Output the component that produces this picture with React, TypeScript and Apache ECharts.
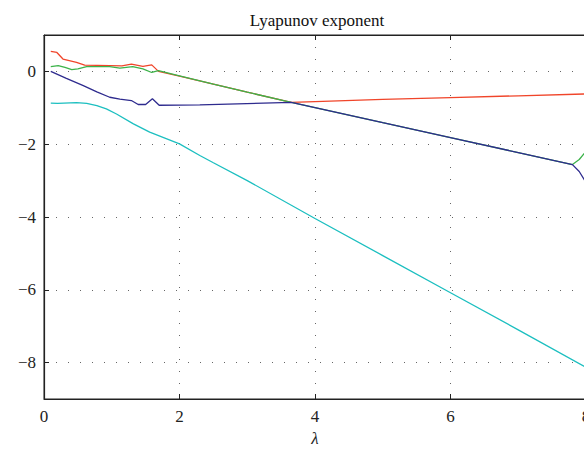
import React, { useEffect, useRef } from "react";
import * as echarts from "echarts";

const titleText = "Lyapunov exponent";
const xTicks = [0, 2, 4, 6, 8];
const yTicks = [-8, -6, -4, -2, 0];

const redData: [number, number][] = [
  [0.1, 0.55], [0.19, 0.52], [0.28, 0.34], [0.48, 0.25], [0.6, 0.17], [0.97, 0.16],
  [1.15, 0.15], [1.29, 0.2], [1.46, 0.14], [1.59, 0.18], [1.69, 0.0], [2.0, -0.13],
  [2.5, -0.35], [3.0, -0.57], [3.65, -0.85], [4, -0.83], [5, -0.77], [6, -0.72],
  [7, -0.67], [8, -0.62],
];
const greenData: [number, number][] = [
  [0.1, 0.13], [0.21, 0.16], [0.31, 0.11], [0.41, 0.05], [0.5, 0.07], [0.63, 0.13],
  [0.97, 0.13], [1.12, 0.09], [1.31, 0.13], [1.46, 0.07], [1.59, -0.03], [1.69, 0.02],
  [2.0, -0.12], [2.5, -0.35], [3.0, -0.57], [3.65, -0.85], [5, -1.41], [6, -1.82],
  [7, -2.23], [7.8, -2.56], [7.9, -2.42], [8.0, -2.2],
];
const blueData: [number, number][] = [
  [0.1, 0.0], [0.33, -0.19], [0.58, -0.39], [0.78, -0.56], [0.97, -0.71], [1.12, -0.76],
  [1.29, -0.8], [1.39, -0.91], [1.5, -0.91], [1.6, -0.75], [1.7, -0.93], [2.3, -0.92],
  [3.65, -0.85], [5, -1.41], [6, -1.82], [7, -2.23], [7.8, -2.56], [7.9, -2.75],
  [8.0, -3.05],
];
const cyanData: [number, number][] = [
  [0.1, -0.87], [0.2, -0.88], [0.48, -0.86], [0.63, -0.88], [0.78, -0.94], [0.92, -1.03],
  [1.07, -1.17], [1.32, -1.44], [1.56, -1.67], [2.0, -1.99], [2.3, -2.31], [2.5, -2.51],
  [3, -3.0], [4, -4.04], [5, -5.06], [6, -6.08], [7, -7.1], [8, -8.13],
];

const FONT = "Liberation Serif";

export default function App() {
  const ref = useRef<HTMLDivElement>(null);
  useEffect(() => {
    if (!ref.current) return;
    const chart = echarts.init(ref.current, undefined, { renderer: "svg" });
    const grid = { color: "#666", type: [1, 11] as any, width: 1 };
    const fmt = (v: number) => (v < 0 ? "\u2212" + Math.abs(v) : String(v));
    const line = (name: string, data: [number, number][], color: string) => ({
      name,
      type: "line",
      data,
      showSymbol: false,
      symbol: "none",
      lineStyle: { color, width: 1.3 },
      z: 3,
    });
    chart.setOption({
      animation: false,
      backgroundColor: "#fff",
      title: {
        text: titleText,
        left: 312,
        textAlign: "center",
        top: 7,
        textStyle: { fontFamily: FONT, fontSize: 17, fontWeight: "normal", color: "#111" },
      },
      grid: {
        left: 44,
        right: -2,
        top: 35,
        bottom: 56,
        show: true,
        borderColor: "#222",
        borderWidth: 1,
        backgroundColor: "transparent",
        containLabel: false,
        outerBoundsMode: "none",
      },
      xAxis: [
        {
          type: "value",
          min: 0,
          max: 8,
          interval: 2,
          position: "bottom",
          axisLine: { show: true, onZero: false, lineStyle: { color: "#222", width: 1.2 } },
          axisTick: { show: true, inside: true, length: 5, lineStyle: { color: "#222" } },
          axisLabel: {
            show: true,
            margin: 9,
            fontFamily: FONT,
            fontSize: 17,
            color: "#222",
            formatter: fmt,
            customValues: xTicks,
          },
          splitLine: { show: true, lineStyle: grid },
          name: "\u03bb",
          nameLocation: "middle",
          nameGap: 31,
          nameTextStyle: { fontFamily: FONT, fontSize: 17, fontStyle: "italic", color: "#222" },
        },
        {
          type: "value",
          min: 0,
          max: 8,
          interval: 2,
          position: "top",
          axisLine: { show: true, onZero: false, lineStyle: { color: "#222", width: 1.2 } },
          axisTick: { show: true, inside: true, length: 5, lineStyle: { color: "#222" } },
          axisLabel: { show: false },
          splitLine: { show: false },
        },
      ],
      yAxis: [
        {
          type: "value",
          min: -9,
          max: 1,
          axisLine: { show: true, onZero: false, lineStyle: { color: "#222", width: 1.2 } },
          axisTick: { show: true, inside: true, length: 5, customValues: yTicks, lineStyle: { color: "#222" } },
          axisLabel: {
            show: true,
            margin: 8,
            fontFamily: FONT,
            fontSize: 17,
            color: "#222",
            formatter: fmt,
            customValues: yTicks,
          },
          splitLine: { show: true, lineStyle: grid },
        },
      ],
      series: [
        line("red", redData, "#f0452a"),
        line("green", greenData, "#3cb34a"),
        line("blue", blueData, "#2e2b8e"),
        line("cyan", cyanData, "#1cbfc0"),
      ],
    });
    return () => chart.dispose();
  }, []);
  return (
    <div
      ref={ref}
      style={{ position: "fixed", left: 0, top: 0, width: 584, height: 455 }}
    />
  );
}
